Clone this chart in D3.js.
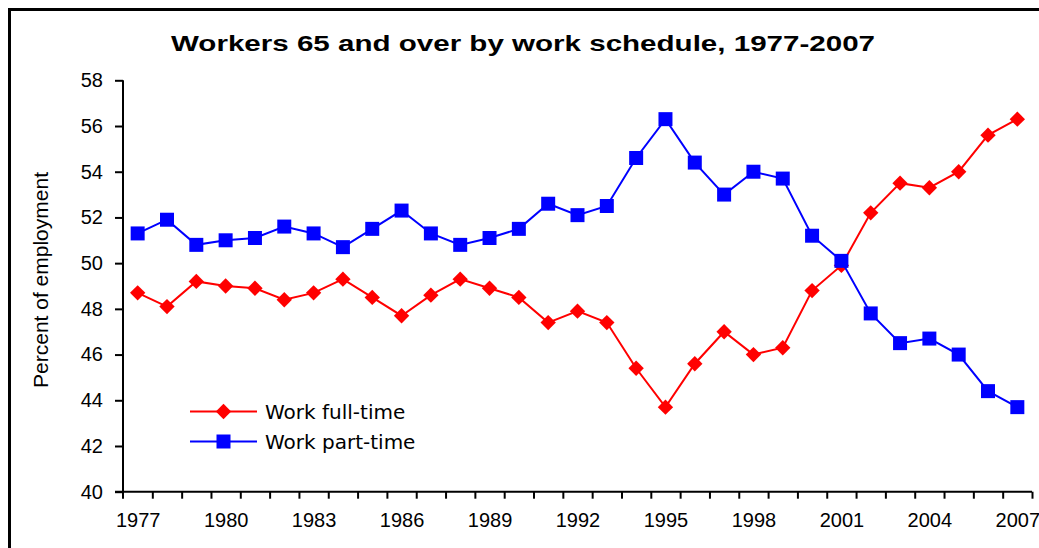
<!DOCTYPE html>
<html>
<head>
<meta charset="utf-8">
<script src="https://cdn.jsdelivr.net/npm/d3@7"></script>
<style>
    html, body { margin: 0; padding: 0; background: #fff; }
    svg { display: block; }
</style>
</head>
<body>
<div id="chart"></div>
<script>
// Workers 65 and over by work schedule, 1977-2007
const years = [1977, 1978, 1979, 1980, 1981, 1982, 1983, 1984, 1985, 1986,
    1987, 1988, 1989, 1990, 1991, 1992, 1993, 1994, 1995, 1996,
    1997, 1998, 1999, 2000, 2001, 2002, 2003, 2004, 2005, 2006, 2007];
const fullTime = [48.7, 48.1, 49.2, 49.0, 48.9, 48.4, 48.7, 49.3, 48.5, 47.7,
    48.6, 49.3, 48.9, 48.5, 47.4, 47.9, 47.4, 45.4, 43.7, 45.6,
    47.0, 46.0, 46.3, 48.8, 49.9, 52.2, 53.5, 53.3, 54.0, 55.6, 56.3];
const partTime = [51.3, 51.9, 50.8, 51.0, 51.1, 51.6, 51.3, 50.7, 51.5, 52.3,
    51.3, 50.8, 51.1, 51.5, 52.6, 52.1, 52.5, 54.6, 56.3, 54.4,
    53.0, 54.0, 53.7, 51.2, 50.1, 47.8, 46.5, 46.7, 46.0, 44.4, 43.7];
const yTicks = [40, 42, 44, 46, 48, 50, 52, 54, 56, 58];
const xLabels = [1977, 1980, 1983, 1986, 1989, 1992, 1995, 1998, 2001, 2004, 2007];
const seriesNames = ['Work full-time', 'Work part-time'];

const W = 1039, H = 548;
const plotLeft = 123, plotRight = 1032, plotTop = 80.3, plotBottom = 491.7;
const RED = '#ff0000', BLUE = '#0000ff';
const font = '"Liberation Sans", Arial, sans-serif';

const svg = d3.select('#chart').append('svg')
    .attr('width', W)
    .attr('height', H);

// outer frame (runs off the right/bottom edge like the source)
svg.append('rect')
    .attr('x', 9.5).attr('y', 9.5)
    .attr('width', 1100).attr('height', 600)
    .attr('fill', 'none')
    .attr('stroke', '#000')
    .attr('stroke-width', 3);

// Title
svg.append('text')
    .attr('x', 523)
    .attr('y', 51)
    .attr('text-anchor', 'middle')
    .attr('textLength', 704)
    .attr('lengthAdjust', 'spacingAndGlyphs')
    .style('font-family', font)
    .style('font-size', '22px')
    .style('font-weight', '700')
    .text('Workers 65 and over by work schedule, 1977-2007');

const x = d3.scaleLinear()
    .domain([years[0] - 0.5, years[years.length - 1] + 0.5])
    .range([plotLeft, plotRight]);

const y = d3.scaleLinear()
    .domain([40, 58])
    .range([plotBottom, plotTop]);

// Y axis
const yAxis = svg.append('g')
    .attr('transform', `translate(${plotLeft},0)`)
    .call(d3.axisLeft(y).tickValues(yTicks).tickSize(8).tickPadding(12).tickFormat(d3.format('d')));
yAxis.select('.domain').attr('stroke', '#000').attr('stroke-width', 2).attr('d', `M0,${plotTop}V${plotBottom + 7}`);
yAxis.selectAll('.tick line').attr('stroke', '#000').attr('stroke-width', 2);
yAxis.selectAll('text')
    .style('font-family', font)
    .style('font-size', '20px')
    .attr('fill', '#000');

// X axis: tick marks between categories
const boundaries = d3.range(years[0] + 0.5, years[years.length - 1] + 1, 1);
const xAxis = svg.append('g')
    .attr('transform', `translate(0,${plotBottom})`)
    .call(d3.axisBottom(x).tickValues(boundaries).tickSize(7).tickFormat(''));
xAxis.select('.domain').attr('stroke', '#000').attr('stroke-width', 2).attr('d', `M${plotLeft - 8},0H${plotRight}`);
xAxis.selectAll('.tick line').attr('stroke', '#000').attr('stroke-width', 2);

// X labels every 3 years
const xLab = svg.append('g')
    .attr('transform', `translate(0,${plotBottom})`)
    .call(d3.axisBottom(x).tickValues(xLabels).tickSize(0).tickPadding(21).tickFormat(d3.format('d')));
xLab.select('.domain').remove();
xLab.selectAll('text')
    .style('font-family', font)
    .style('font-size', '20px')
    .attr('fill', '#000');

// Y axis title
svg.append('text')
    .attr('transform', `translate(48,${(plotTop + plotBottom) / 2 - 6}) rotate(-90)`)
    .attr('text-anchor', 'middle')
    .style('font-family', font)
    .style('font-size', '21px')
    .text('Percent of employment');

// Lines
const line = d3.line()
    .x(d => x(d.year))
    .y(d => y(d.value));

const series = [
    { name: seriesNames[0], color: RED, shape: 'diamond', values: years.map((yr, i) => ({ year: yr, value: fullTime[i] })) },
    { name: seriesNames[1], color: BLUE, shape: 'square', values: years.map((yr, i) => ({ year: yr, value: partTime[i] })) }
];

const squarePath = d3.symbol().type(d3.symbolSquare).size(196)();
const diamondPath = d3.symbol().type(d3.symbolSquare).size(118)();

function marker(sel, shape, color) {
    sel.append('path')
        .attr('d', shape === 'square' ? squarePath : diamondPath)
        .attr('fill', color)
        .attr('transform', shape === 'diamond' ? 'rotate(45)' : null);
}

series.forEach(s => {
    svg.append('path')
        .datum(s.values)
        .attr('d', line)
        .attr('fill', 'none')
        .attr('stroke', s.color)
        .attr('stroke-width', 2);

    svg.selectAll(null)
        .data(s.values)
        .enter()
        .append('g')
        .attr('transform', d => `translate(${x(d.year)},${y(d.value)})`)
        .each(function() { marker(d3.select(this), s.shape, s.color); });
});

// Legend
const legend = svg.append('g');
series.forEach((s, i) => {
    const ly = 411.5 + i * 30;
    legend.append('line')
        .attr('x1', 190).attr('x2', 257)
        .attr('y1', ly).attr('y2', ly)
        .attr('stroke', s.color)
        .attr('stroke-width', 2);
    const g = legend.append('g').attr('transform', `translate(223.5,${ly})`);
    marker(g, s.shape, s.color);
    legend.append('text')
        .attr('x', 265)
        .attr('y', ly + 7)
        .style('font-family', '"DejaVu Sans", Verdana, sans-serif')
        .style('font-size', '20px')
        .attr('fill', '#000')
        .text(s.name);
});
</script>
</body>
</html>
